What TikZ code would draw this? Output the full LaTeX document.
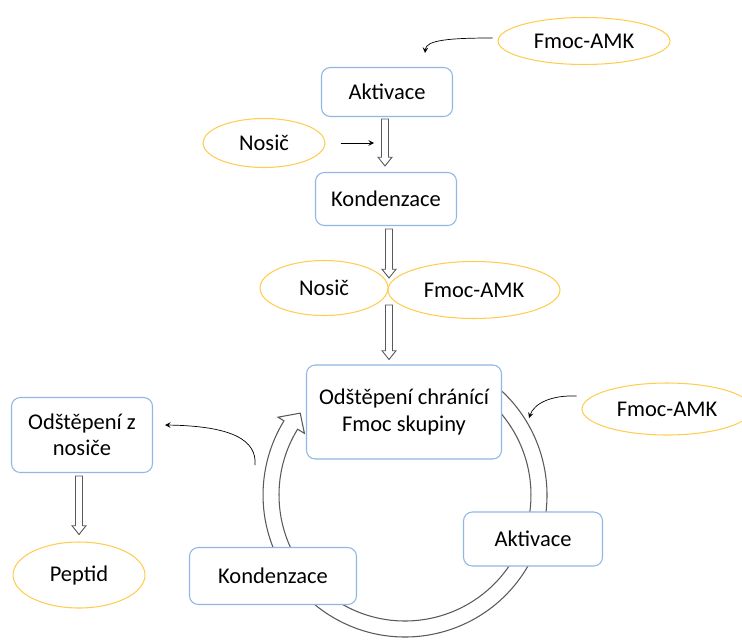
\documentclass[tikz,border=0pt]{standalone}
\usepackage{fontspec}
\setmainfont{Carlito}
\usetikzlibrary{shapes.geometric,calc}
\definecolor{krokmodra}{RGB}{143,182,228}
\definecolor{latkazluta}{RGB}{255,204,80}
\tikzset{
  krok/.style={draw=krokmodra,fill=white,line width=0.6pt,rounded corners=5pt,align=center,inner sep=0pt},
  latka/.style={ellipse,draw=latkazluta,line width=0.6pt,inner sep=0pt},
  kruh/.style={draw=black!65,fill=white,line width=0.6pt},
  hollow/.style={draw=black!65,fill=white,line width=0.5pt,
    to path={let \p1=(\tikztostart), \p2=(\tikztotarget) in
      (\x1-2pt,\y1) -- (\x1-2pt,\y2+5pt) -- (\x1-4pt,\y2+5pt) -- (\x1,\y2)
      -- (\x1+4pt,\y2+5pt) -- (\x1+2pt,\y2+5pt) -- (\x1+2pt,\y1) -- cycle}}
}
\begin{document}
\begin{tikzpicture}[x=0.02cm,y=-0.02cm,>=stealth,font=\fontsize{12.8}{15}\selectfont]
  \useasboundingbox (0,0) rectangle (742,639);
  % cyklus
  \begin{scope}[shift={(405,495)}]
    \draw[kruh] (60:2.84cm) arc[start angle=60,end angle=-211.5,radius=2.84cm]
      -- (148.5:2.98cm) -- (142:2.66cm) -- (148.5:2.36cm) -- (148.5:2.52cm)
      arc[start angle=148.5,end angle=420,radius=2.52cm] -- cycle;
  \end{scope}
  \node[latka,minimum width=3.44cm,minimum height=0.94cm] (fmocA) at (584,41) {Fmoc-AMK};
  \node[krok,minimum width=2.62cm,minimum height=0.98cm] (aktA) at (387,92) {Aktivace};
  \node[latka,minimum width=2.44cm,minimum height=0.98cm] (nosicA) at (264,143) {Nosič};
  \node[krok,minimum width=2.82cm,minimum height=1.06cm] (kondA) at (386,199) {Kondenzace};
  \node[latka,minimum width=2.56cm,minimum height=1.10cm] (nosicB) at (324,288) {Nosič};
  \node[latka,minimum width=3.44cm,minimum height=1.14cm] (fmocB) at (474,290) {Fmoc-AMK};
  \node[krok,minimum width=3.90cm,minimum height=1.88cm] (odstC) at (404,412) {Odštěpení chránící\\Fmoc skupiny};
  \node[latka,minimum width=3.40cm,minimum height=1.04cm] (fmocC) at (667,409) {Fmoc-AMK};
  \node[krok,minimum width=2.82cm,minimum height=1.50cm] (odstZ) at (82,435) {Odštěpení z\\nosiče};
  \node[latka,minimum width=2.64cm,minimum height=1.32cm] (peptid) at (79,575) {Peptid};
  \node[krok,minimum width=3.34cm,minimum height=1.14cm] (kondB) at (273,576) {Kondenzace};
  \node[krok,minimum width=2.78cm,minimum height=1.08cm] (aktB) at (533,539) {Aktivace};
  \coordinate (spoj) at (389,291);
  \coordinate (aktin) at (425,53);
  \coordinate (nosin) at (374,143);
  \coordinate (kruhin) at (529,418);
  \coordinate (kruhout) at (255,465);
  % sipky
  \draw[hollow] ([shift={(-2,2)}]aktA.south) to ([shift={(-1,-6)}]kondA.north);
  \draw[hollow] ([shift={(3,3)}]kondA.south) to ([shift={(0,-13)}]spoj);
  \draw[hollow] ([shift={(0,14)}]spoj) to ([shift={(-14,-5)}]odstC.north);
  \draw[hollow] ([shift={(-3,3)}]odstZ.south) to ([shift={(0,-7)}]peptid.north);
  \draw[->] ([shift={(-5,-3)}]fmocA.west) .. controls (450,38) and (426,40) .. (aktin);
  \draw[->] ([shift={(15,0)}]nosicA.east) -- (nosin);
  \draw[->] ([shift={(-5,-13)}]fmocC.west) .. controls (550,395) and (534,404) .. (kruhin);
  \draw[->] (kruhout) .. controls (257,440) and (232,426) .. ([shift={(12,-10)}]odstZ.east);
\end{tikzpicture}
\end{document}
